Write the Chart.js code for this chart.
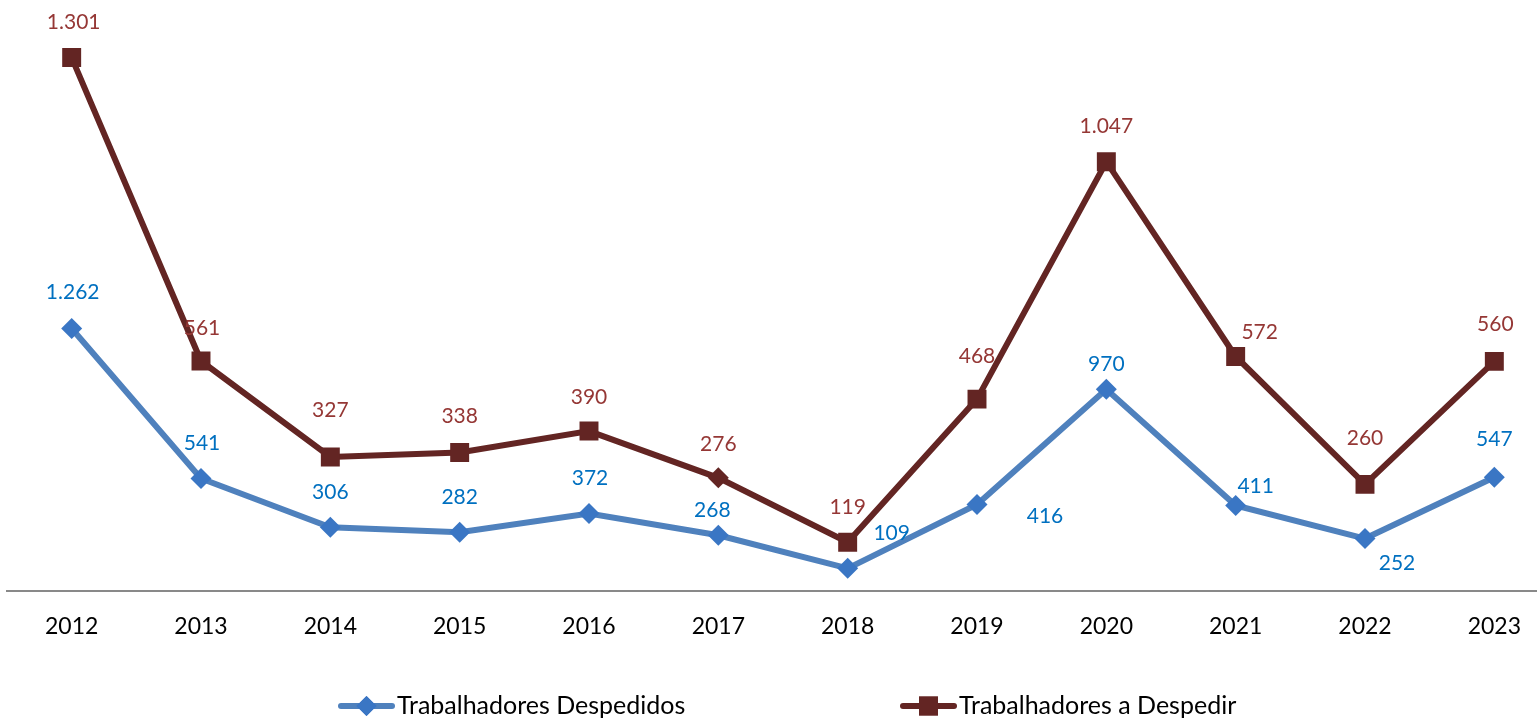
<!DOCTYPE html>
<html><head><meta charset="utf-8">
<script src="https://cdn.jsdelivr.net/npm/chart.js@4.4.1/dist/chart.umd.min.js"></script>
<style>
html,body{margin:0;padding:0;overflow:hidden;background:#fff;width:1537px;height:721px}
#wrap{position:absolute;left:0;top:0;width:1559px;height:721px}
</style>
</head><body><div id="wrap"><canvas id="c" width="1559" height="721"></canvas></div>
<script>
// ---- data ----
const years = ['2012','2013','2014','2015','2016','2017','2018','2019','2020','2021','2022','2023'];
const despedidos = [1262, 541, 306, 282, 372, 268, 109, 416, 970, 411, 252, 547];
const aDespedir  = [1301, 561, 327, 338, 390, 276, 119, 468, 1047, 572, 260, 560];
const seriesNames = ['Trabalhadores Despedidos', 'Trabalhadores a Despedir'];

// ---- styles ----
const BLUE_LINE = '#4F81BD', BLUE_PT = '#3A76C4', BLUE_TXT = '#0070C0';
const RED_LINE = '#632523', RED_TXT = '#953735';
const FONT = 'Lato';
const redStyles = ['rect','rect','rect','rect','rect','rectRot','rect','rect','rect','rect','rect','rect'];
const redRadius = [13.4,13.4,13.4,13.4,13.4,10.5,13.4,13.4,13.4,13.4,13.4,13.4];
// label offsets [dx, dy] relative to point
const blueOff = [[1,-36],[1,-35],[0,-35],[0,-35],[1,-35],[-6,-25],[44,-35],[68,12],[0,-25],[20,-19],[32,25],[0,-38]];
const redOff  = [[2,-35],[1,-33],[0,-47],[0,-36],[0,-34],[0,-34],[0,-35],[0,-43],[0,-35],[24,-24],[0,-46],[1,-37]];

const fmt = v => String(v).replace(/\B(?=(\d{3})+(?!\d))/g, '.');

const labelPlugin = {
  id: 'valueLabels',
  afterDatasetsDraw(chart) {
    const ctx = chart.ctx;
    ctx.save();
    ctx.font = '21px ' + FONT;
    ctx.textAlign = 'center';
    ctx.textBaseline = 'middle';
    chart.data.datasets.forEach((ds, di) => {
      const meta = chart.getDatasetMeta(di);
      const offs = di === 0 ? blueOff : redOff;
      ctx.fillStyle = di === 0 ? BLUE_TXT : RED_TXT;
      meta.data.forEach((pt, i) => {
        ctx.fillText(fmt(ds.data[i]), pt.x + offs[i][0], pt.y + offs[i][1]);
      });
    });
    ctx.restore();
  }
};

const legendPlugin = {
  id: 'customLegend',
  afterDraw(chart) {
    const ctx = chart.ctx;
    const y = 706;
    const items = [
      {x0: 338, x1: 395, color: BLUE_LINE, marker: 'rectRot', mcolor: BLUE_PT, r: 10, tx: 397, text: seriesNames[0]},
      {x0: 900, x1: 957, color: RED_LINE, marker: 'rect', mcolor: RED_LINE, r: 13.4, tx: 959, text: seriesNames[1]}
    ];
    ctx.save();
    items.forEach(it => {
      ctx.strokeStyle = it.color;
      ctx.lineWidth = 6;
      ctx.lineCap = 'round';
      ctx.beginPath();
      ctx.moveTo(it.x0 + 3, y);
      ctx.lineTo(it.x1 - 3, y);
      ctx.stroke();
      ctx.fillStyle = it.mcolor;
      Chart.helpers.drawPoint(ctx, {pointStyle: it.marker, radius: it.r, borderWidth: 0, rotation: 0}, (it.x0 + it.x1) / 2, y);
      ctx.fill();
      ctx.fillStyle = '#000';
      ctx.font = '25px ' + FONT;
      ctx.textAlign = 'left';
      ctx.textBaseline = 'middle';
      ctx.fillText(it.text, it.tx, y);
    });
    ctx.restore();
  }
};

function build() {
  new Chart(document.getElementById('c'), {
    type: 'line',
    data: {
      labels: years,
      datasets: [
        {
          label: seriesNames[0], data: despedidos, yAxisID: 'y',
          borderColor: BLUE_LINE, borderWidth: 6, tension: 0,
          pointStyle: 'rectRot', pointRadius: 10.5, pointBackgroundColor: BLUE_PT,
          pointBorderColor: BLUE_PT, pointBorderWidth: 0, order: 2
        },
        {
          label: seriesNames[1], data: aDespedir, yAxisID: 'y2',
          borderColor: RED_LINE, borderWidth: 6, tension: 0,
          pointStyle: redStyles, pointRadius: redRadius, pointBackgroundColor: RED_LINE,
          pointBorderColor: RED_LINE, pointBorderWidth: 0, order: 1
        }
      ]
    },
    options: {
      responsive: false,
      animation: false,
      events: [],
      layout: {autoPadding: false, padding: {left: 7, right: 0, top: 10, bottom: 0}},
      plugins: {legend: {display: false}, tooltip: {enabled: false}},
      scales: {
        x: {
          offset: true,
          grid: {display: false, drawTicks: false, offset: true},
          border: {display: true, color: '#898989', width: 2},
          ticks: {color: '#000', font: {family: FONT, size: 23}, padding: 22, maxRotation: 0, autoSkip: false},
          afterFit: s => { s.height = 130; s.paddingLeft = 0; s.paddingRight = 0; }
        },
        y: {display: false, min: 0, max: 2793},
        y2: {display: false, min: 0, max: 1417, position: 'right'}
      }
    },
    plugins: [labelPlugin, legendPlugin]
  });
}
if (document.fonts && document.fonts.load) {
  Promise.all([document.fonts.load('23px Lato'), document.fonts.load('21px Lato'), document.fonts.load('25px Lato')]).then(build, build);
} else build();
</script>
</body></html>
